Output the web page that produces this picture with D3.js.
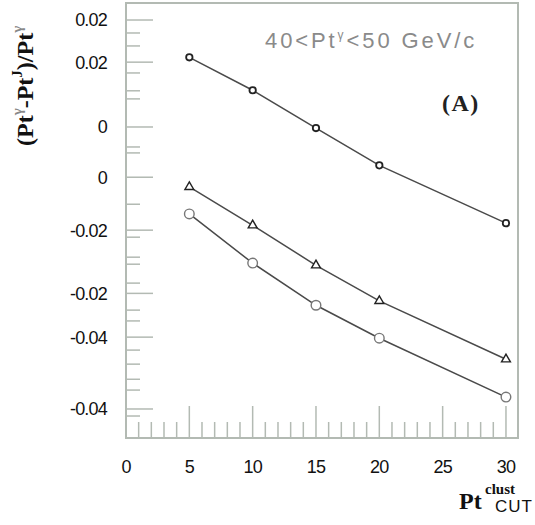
<!DOCTYPE html>
<html><head><meta charset="utf-8">
<script src="https://cdn.jsdelivr.net/npm/d3@7"></script>
<style>body{margin:0;background:#fff}svg{display:block}</style>
</head><body>
<script>
// ---- data ----
const ptCut = [5, 10, 15, 20, 30];
const seriesCircleSmall = [0.0171, 0.0110, 0.0040, -0.0029, -0.0136];
const seriesTriangle = [-0.0069, -0.0140, -0.0214, -0.0280, -0.0388];
const seriesCircleOpen = [-0.0119, -0.0210, -0.0288, -0.0349, -0.0458];
const yMajorTicks = [0.0240, 0.0162, 0.0042, -0.0051, -0.0149, -0.0266, -0.0347, -0.0480];
const yMajorLabels = ["0.02", "0.02", "0", "0", "-0.02", "-0.02", "-0.04", "-0.04"];
const yMinorTicks = [0.0216, 0.0192, 0.0142, 0.0109, 0.0094, 0.0005, -0.0006, -0.0101, -0.0162, -0.0199, -0.0212, -0.0247, -0.0297, -0.0317, -0.0371, -0.0397, -0.0425, -0.0445, -0.0493];
const xMajorTicks = [0, 5, 10, 15, 20, 25, 30];
const xMinorTicks = d3.range(1, 31).filter(v => v % 5 !== 0);

const W = 535, H = 525;
const L = 126, R = 518, T = 3, B = 438;
const x = d3.scaleLinear().domain([0, 30.95]).range([L, R]);
const y = d3.scaleLinear().domain([0.02715, -0.05337]).range([T, B]);

const svg = d3.select("body").append("svg").attr("width", W).attr("height", H);
const frameColor = "#b3bab3";
const sans = "Liberation Sans, Arial, sans-serif";
const serif = "Liberation Serif, Times New Roman, serif";

// ticks
const gT = svg.append("g").attr("stroke", frameColor).attr("stroke-width", 1.5);
gT.selectAll(".ymaj").data(yMajorTicks).join("line")
  .attr("x1", L).attr("x2", L + 27).attr("y1", d => y(d)).attr("y2", d => y(d));
gT.selectAll(".ymin").data(yMinorTicks).join("line")
  .attr("x1", L).attr("x2", L + 14).attr("y1", d => y(d)).attr("y2", d => y(d));
gT.selectAll(".xmaj").data(xMajorTicks).join("line")
  .attr("x1", d => x(d)).attr("x2", d => x(d)).attr("y1", B).attr("y2", B - 32);
gT.selectAll(".xmin").data(xMinorTicks).join("line")
  .attr("x1", d => x(d)).attr("x2", d => x(d)).attr("y1", B).attr("y2", B - 16);

// frame
svg.append("rect").attr("x", L).attr("y", T).attr("width", R - L).attr("height", B - T)
  .attr("fill", "none").attr("stroke", frameColor).attr("stroke-width", 2);

// tick labels
svg.append("g").selectAll("text").data(yMajorTicks).join("text")
  .attr("x", 107).attr("y", d => y(d)).attr("dy", "0.36em")
  .attr("text-anchor", "end").attr("font-family", sans)
  .attr("font-size", 18).attr("fill", "#111").attr("letter-spacing", "-0.8")
  .text((d, i) => yMajorLabels[i]);
svg.append("g").selectAll("text").data(xMajorTicks).join("text")
  .attr("x", d => x(d)).attr("y", 467).attr("dy", "0.36em")
  .attr("text-anchor", "middle").attr("font-family", sans)
  .attr("font-size", 18).attr("fill", "#111").attr("letter-spacing", "-0.8")
  .text(d => d);

// lines
const line = d3.line().x((d, i) => x(ptCut[i])).y(d => y(d));
[seriesCircleSmall, seriesTriangle, seriesCircleOpen].forEach(s => {
  svg.append("path").attr("d", line(s)).attr("fill", "none")
    .attr("stroke", "#4a4a4a").attr("stroke-width", 1.5);
});

// markers
svg.append("g").selectAll("circle").data(seriesCircleSmall).join("circle")
  .attr("cx", (d, i) => x(ptCut[i])).attr("cy", d => y(d)).attr("r", 3.2)
  .attr("fill", "#fff").attr("stroke", "#222").attr("stroke-width", 1.8);
const tri = d3.symbol().type(d3.symbolTriangle).size(34);
svg.append("g").selectAll("path").data(seriesTriangle).join("path")
  .attr("transform", (d, i) => `translate(${x(ptCut[i])},${y(d)})`)
  .attr("d", tri()).attr("fill", "#fff").attr("stroke", "#222").attr("stroke-width", 1.4);
svg.append("g").selectAll("circle").data(seriesCircleOpen).join("circle")
  .attr("cx", (d, i) => x(ptCut[i])).attr("cy", d => y(d)).attr("r", 4.8)
  .attr("fill", "#fff").attr("stroke", "#777").attr("stroke-width", 1.4);

// annotation text
const ann = svg.append("text").attr("x", 265).attr("y", 48)
  .attr("font-family", sans).attr("font-size", 22).attr("letter-spacing", "2.9")
  .attr("fill", "#8a8a8a");
ann.append("tspan").text("40<Pt");
ann.append("tspan").attr("font-size", 12).attr("dy", -9).text("γ");
ann.append("tspan").attr("dy", 9).text("<50 GeV/c");

svg.append("text").attr("x", 442).attr("y", 111)
  .attr("font-family", serif).attr("font-size", 24).attr("letter-spacing", "1.5")
  .attr("font-weight", "bold").attr("fill", "#222").text("(A)");

// x title
svg.append("text").attr("x", 459).attr("y", 509)
  .attr("font-family", serif).attr("font-weight", "bold")
  .attr("font-size", 24).attr("fill", "#111").text("Pt");
svg.append("text").attr("x", 485).attr("y", 494)
  .attr("font-family", serif).attr("font-weight", "bold")
  .attr("font-size", 15).attr("fill", "#111").text("clust");
svg.append("text").attr("x", 495).attr("y", 512)
  .attr("font-family", sans).attr("letter-spacing", "1")
  .attr("font-size", 17).attr("fill", "#111").text("CUT");

// y title
const yt = svg.append("text").attr("transform", "translate(33,146) rotate(-90)")
  .attr("font-family", serif).attr("font-weight", "bold")
  .attr("font-size", 24).attr("fill", "#111");
yt.append("tspan").text("(Pt");
yt.append("tspan").attr("font-size", 15).attr("dy", -11).attr("fill", "#888").text("γ");
yt.append("tspan").attr("dy", 11).text("-Pt");
yt.append("tspan").attr("font-size", 15).attr("dy", -11).text("J");
yt.append("tspan").attr("dy", 11).text(")/Pt");
yt.append("tspan").attr("font-size", 15).attr("dy", -11).attr("fill", "#888").text("γ");
</script>
</body></html>
